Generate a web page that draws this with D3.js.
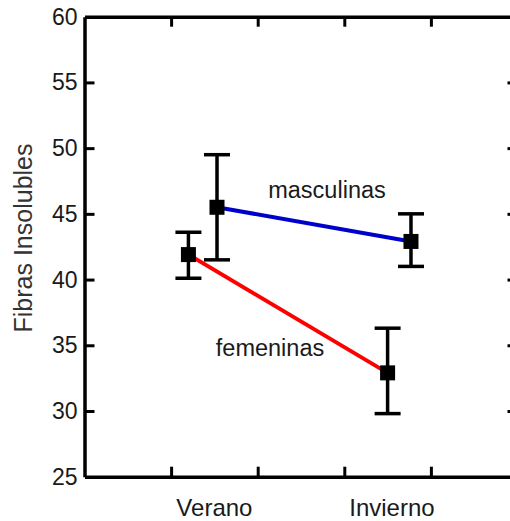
<!DOCTYPE html>
<html>
<head>
<meta charset="utf-8">
<script src="https://cdn.jsdelivr.net/npm/d3@7"></script>
<style>
  body { margin: 0; background: #fff; }
  text { font-family: "Liberation Sans", Arial, sans-serif; fill: #1a1a1a; }
</style>
</head>
<body>
<div id="chart"></div>
<script>
// data
const seasons = ["Verano", "Invierno"];
const seasonX = [1.5, 3.55];
const yTicks = [25, 30, 35, 40, 45, 50, 55, 60];

const femX = [1.2, 3.5];
const femMean = [41.9, 32.9];
const femLow = [40.1, 29.8];
const femHigh = [43.6, 36.3];

const mascX = [1.53, 3.77];
const mascMean = [45.5, 42.9];
const mascLow = [41.5, 41.0];
const mascHigh = [49.5, 45.0];

const W = 510, H = 521;
const plotL = 84.5, plotR = 517.5, plotT = 16.7, plotB = 476.7;

const svg = d3.select("#chart")
  .append("svg")
  .attr("width", W)
  .attr("height", H);

const x = d3.scaleLinear().domain([0, 5]).range([plotL, plotR]);
const y = d3.scaleLinear().domain([25, 60]).range([plotB, plotT]);

// frame with inward ticks on all four sides
const axisStyle = g => {
  g.select(".domain").attr("stroke", "#000").attr("stroke-width", 3.5);
  g.selectAll(".tick line").attr("stroke", "#000").attr("stroke-width", 3);
};

svg.append("g")
   .attr("transform", `translate(0,${plotB})`)
   .call(d3.axisBottom(x).tickValues([1, 2, 3, 4]).tickSize(-10).tickSizeOuter(0).tickFormat(""))
   .call(axisStyle);

svg.append("g")
   .attr("transform", `translate(0,${plotT})`)
   .call(d3.axisTop(x).tickValues([1, 2, 3, 4]).tickSize(-10).tickSizeOuter(0).tickFormat(""))
   .call(axisStyle);

svg.append("g")
   .attr("transform", `translate(${plotL},0)`)
   .call(d3.axisLeft(y).tickValues(yTicks.slice(1, -1)).tickSize(-10).tickSizeOuter(0).tickFormat(""))
   .call(axisStyle);

svg.append("g")
   .attr("transform", `translate(${plotR},0)`)
   .call(d3.axisRight(y).tickValues(yTicks.slice(1, -1)).tickSize(-10).tickSizeOuter(0).tickFormat(""))
   .call(axisStyle);

// y tick labels
svg.selectAll(".ylab")
   .data(yTicks)
   .enter()
   .append("text")
   .attr("x", plotL - 7)
   .attr("y", d => y(d) + 8)
   .attr("text-anchor", "end")
   .style("font-size", "23px")
   .text(d => d);

// x category labels
svg.selectAll(".xlab")
   .data(seasons)
   .enter()
   .append("text")
   .attr("x", (d, i) => x(seasonX[i]))
   .attr("y", 516)
   .attr("text-anchor", "middle")
   .style("font-size", "24px")
   .text(d => d);

svg.append("text")
   .attr("transform", "translate(32,238) rotate(-90)")
   .attr("text-anchor", "middle")
   .style("font-size", "25px")
   .style("fill", "#333")
   .text("Fibras Insolubles");

function series(xs, mean, low, high, color) {
  const pts = xs.map((v, i) => ({x: v, m: mean[i], lo: low[i], hi: high[i]}));

  const g = svg.append("g");
  const bars = g.selectAll(".eb").data(pts).enter().append("g");
  bars.append("line")
      .attr("x1", d => x(d.x)).attr("x2", d => x(d.x))
      .attr("y1", d => y(d.lo)).attr("y2", d => y(d.hi))
      .attr("stroke", "#000").attr("stroke-width", 3.5);
  [d => d.lo, d => d.hi].forEach(f => {
    bars.append("line")
        .attr("x1", d => x(d.x) - 13).attr("x2", d => x(d.x) + 13)
        .attr("y1", d => y(f(d))).attr("y2", d => y(f(d)))
        .attr("stroke", "#000").attr("stroke-width", 3.5);
  });

  g.append("path")
   .datum(pts)
   .attr("fill", "none")
   .attr("stroke", color)
   .attr("stroke-width", 4)
   .attr("d", d3.line().x(d => x(d.x)).y(d => y(d.m)));

  g.selectAll(".sq").data(pts).enter().append("rect")
   .attr("x", d => x(d.x) - 7.5)
   .attr("y", d => y(d.m) - 7.5)
   .attr("width", 15)
   .attr("height", 15)
   .attr("fill", "#000");
}

series(femX, femMean, femLow, femHigh, "#ff0000");
series(mascX, mascMean, mascLow, mascHigh, "#0000cc");

svg.append("text")
   .attr("x", 327).attr("y", 198)
   .attr("text-anchor", "middle")
   .style("font-size", "23.5px")
   .text("masculinas");

svg.append("text")
   .attr("x", 270).attr("y", 356)
   .attr("text-anchor", "middle")
   .style("font-size", "23.5px")
   .text("femeninas");
</script>
</body>
</html>
